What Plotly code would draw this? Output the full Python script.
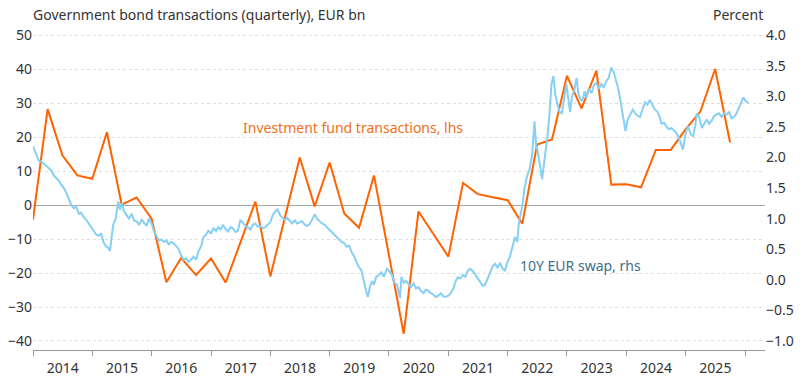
import plotly.graph_objects as go

# Quarterly investment fund transactions in government bonds (EUR bn, lhs)
fund_dates = [
    "2014-01-01", "2014-04-01", "2014-07-01", "2014-10-01",
    "2015-01-01", "2015-04-01", "2015-07-01", "2015-10-01",
    "2016-01-01", "2016-04-01", "2016-07-01", "2016-10-01",
    "2017-01-01", "2017-04-01", "2017-07-01", "2017-10-01",
    "2018-01-01", "2018-04-01", "2018-07-01", "2018-10-01",
    "2019-01-01", "2019-04-01", "2019-07-01", "2019-10-01",
    "2020-01-01", "2020-04-01", "2020-07-01", "2020-10-01",
    "2021-01-01", "2021-04-01", "2021-07-01", "2021-10-01",
    "2022-01-01", "2022-04-01", "2022-07-01", "2022-10-01",
    "2023-01-01", "2023-04-01", "2023-07-01", "2023-10-01",
    "2024-01-01", "2024-04-01", "2024-07-01", "2024-10-01",
    "2025-01-01", "2025-04-01", "2025-07-01", "2025-10-01",
]
fund_values = [
    -4.3, 28.2, 14.6, 8.7,
    7.7, 21.4, 0.1, 2.2,
    -4.0, -22.7, -15.6, -20.6,
    -15.7, -22.8, -11.0, 1.0,
    -21.0, -3.5, 14.0, -0.4,
    12.5, -2.5, -6.7, 8.7,
    -14.6, -37.9, -1.9, -8.5,
    -15.2, 6.5, 3.2, 2.3,
    1.4, -5.5, 17.8, 19.3,
    38.0, 28.4, 39.5, 6.0,
    6.1, 5.2, 16.2, 16.2,
    22.3, 27.5, 40.0, 18.4,
]

# 10Y EUR swap rate (percent, rhs)
swap_dates = [
    "2014-01-01", "2014-01-20", "2014-02-05", "2014-02-20", "2014-03-08", "2014-03-25",
    "2014-04-10", "2014-04-25", "2014-05-10", "2014-05-25", "2014-06-10", "2014-06-25",
    "2014-07-10", "2014-07-25", "2014-08-10", "2014-08-25", "2014-09-10", "2014-09-25",
    "2014-10-10", "2014-10-25", "2014-11-10", "2014-11-25", "2014-12-10", "2014-12-25",
    "2015-01-10", "2015-01-25", "2015-02-10", "2015-02-25", "2015-03-10", "2015-03-25",
    "2015-04-10", "2015-04-20", "2015-05-01", "2015-05-10", "2015-05-25", "2015-06-10",
    "2015-06-20", "2015-07-01", "2015-07-15", "2015-08-01", "2015-08-15", "2015-09-01",
    "2015-09-15", "2015-10-01", "2015-10-15", "2015-11-01", "2015-11-15", "2015-12-01",
    "2015-12-15",
    "2016-01-01", "2016-01-15", "2016-02-01", "2016-02-15", "2016-03-01", "2016-03-15",
    "2016-04-01", "2016-04-15", "2016-05-01", "2016-05-15", "2016-06-01", "2016-06-15",
    "2016-07-01", "2016-07-15", "2016-08-01", "2016-08-15", "2016-09-01", "2016-09-15",
    "2016-10-01", "2016-10-15", "2016-11-01", "2016-11-15", "2016-12-01", "2016-12-15",
    "2017-01-01", "2017-01-15", "2017-02-01", "2017-02-15", "2017-03-01", "2017-03-15",
    "2017-04-01", "2017-04-15", "2017-05-01", "2017-05-15", "2017-06-01", "2017-06-15",
    "2017-07-01", "2017-07-15", "2017-08-01", "2017-08-15", "2017-09-01", "2017-09-15",
    "2017-10-01", "2017-10-15", "2017-11-01", "2017-11-15", "2017-12-01", "2017-12-15",
    "2018-01-01", "2018-01-15", "2018-02-01", "2018-02-15", "2018-03-01", "2018-03-15",
    "2018-04-01", "2018-04-15", "2018-05-01", "2018-05-15", "2018-06-01", "2018-06-15",
    "2018-07-01", "2018-07-15", "2018-08-01", "2018-08-15", "2018-09-01", "2018-09-15",
    "2018-10-01", "2018-10-15", "2018-11-01", "2018-11-15", "2018-12-01", "2018-12-15",
    "2019-01-01", "2019-01-15", "2019-02-01", "2019-02-15", "2019-03-01", "2019-03-15",
    "2019-04-01", "2019-04-15", "2019-05-01", "2019-05-15", "2019-06-01", "2019-06-15",
    "2019-07-01", "2019-07-15", "2019-08-01", "2019-08-15", "2019-08-25", "2019-09-05",
    "2019-09-20", "2019-10-01", "2019-10-15", "2019-11-01", "2019-11-15", "2019-12-01",
    "2019-12-20",
    "2020-01-05", "2020-01-20", "2020-02-01", "2020-02-20", "2020-03-09", "2020-03-18",
    "2020-04-01", "2020-04-15", "2020-05-01", "2020-05-15", "2020-06-01", "2020-06-15",
    "2020-07-01", "2020-07-15", "2020-08-01", "2020-08-15", "2020-09-01", "2020-09-15",
    "2020-10-01", "2020-10-15", "2020-11-01", "2020-11-15", "2020-12-01", "2020-12-15",
    "2021-01-01", "2021-01-15", "2021-02-01", "2021-02-15", "2021-03-01", "2021-03-15",
    "2021-04-01", "2021-04-15", "2021-05-01", "2021-05-15", "2021-06-01", "2021-06-15",
    "2021-07-01", "2021-07-15", "2021-08-01", "2021-08-15", "2021-09-01", "2021-09-15",
    "2021-10-01", "2021-10-15", "2021-11-01", "2021-11-15", "2021-12-01", "2021-12-15",
    "2022-01-01", "2022-01-15", "2022-02-01", "2022-02-15", "2022-03-01", "2022-03-10",
    "2022-03-20", "2022-04-01", "2022-04-15", "2022-05-01", "2022-05-15", "2022-06-01",
    "2022-06-15", "2022-06-25", "2022-07-05", "2022-07-20", "2022-08-01", "2022-08-15",
    "2022-09-01", "2022-09-15", "2022-09-28", "2022-10-10", "2022-10-20", "2022-11-01",
    "2022-11-15", "2022-12-01", "2022-12-15", "2022-12-28",
    "2023-01-10", "2023-01-20", "2023-02-01", "2023-02-15", "2023-03-01", "2023-03-12",
    "2023-03-25", "2023-04-05", "2023-04-20", "2023-05-01", "2023-05-15", "2023-06-01",
    "2023-06-15", "2023-07-01", "2023-07-15", "2023-08-01", "2023-08-15", "2023-09-01",
    "2023-09-15", "2023-10-01", "2023-10-15", "2023-11-01", "2023-11-15", "2023-12-01",
    "2023-12-15", "2023-12-27",
    "2024-01-10", "2024-01-25", "2024-02-10", "2024-02-25", "2024-03-10", "2024-03-25",
    "2024-04-10", "2024-04-25", "2024-05-10", "2024-05-25", "2024-06-10", "2024-06-25",
    "2024-07-10", "2024-07-25", "2024-08-05", "2024-08-20", "2024-09-05", "2024-09-20",
    "2024-10-05", "2024-10-20", "2024-11-05", "2024-11-20", "2024-12-05", "2024-12-15",
    "2025-01-01", "2025-01-15", "2025-02-01", "2025-02-15", "2025-03-01", "2025-03-10",
    "2025-03-25", "2025-04-10", "2025-04-25", "2025-05-10", "2025-05-25", "2025-06-10",
    "2025-06-25", "2025-07-10", "2025-07-25", "2025-08-10", "2025-08-25", "2025-09-10",
    "2025-09-25", "2025-10-10", "2025-10-25", "2025-11-10", "2025-11-25", "2025-12-10",
    "2025-12-22", "2026-01-05", "2026-01-22",
]
swap_values = [
    2.18, 2.05, 1.95, 1.93, 1.90, 1.86,
    1.82, 1.78, 1.70, 1.66, 1.62, 1.55,
    1.50, 1.42, 1.30, 1.22, 1.17, 1.19,
    1.08, 1.10, 1.02, 0.98, 0.92, 0.86,
    0.80, 0.74, 0.72, 0.76, 0.62, 0.55,
    0.52, 0.47, 0.72, 0.90, 1.00, 1.28,
    1.15, 1.25, 1.12, 1.06, 1.00, 1.08,
    0.97, 0.95, 0.90, 0.98, 0.94, 0.88,
    1.00,
    0.92, 0.80, 0.72, 0.64, 0.66, 0.62,
    0.64, 0.58, 0.62, 0.60, 0.55, 0.50,
    0.40, 0.33, 0.35, 0.29, 0.33, 0.38,
    0.33, 0.46, 0.55, 0.70, 0.74, 0.80,
    0.76, 0.84, 0.80, 0.86, 0.82, 0.90,
    0.83, 0.79, 0.86, 0.84, 0.78, 0.80,
    0.98, 0.94, 0.88, 0.86, 0.82, 0.90,
    0.92, 0.87, 0.88, 0.84, 0.86, 0.90,
    0.94, 1.05, 1.12, 1.15, 1.06, 1.02,
    0.98, 1.01, 0.96, 0.92, 0.97, 0.92,
    0.94, 0.96, 0.90, 0.88, 0.91, 0.98,
    1.07, 1.00, 0.96, 0.92, 0.90, 0.86,
    0.82, 0.78, 0.74, 0.70, 0.66, 0.62,
    0.60, 0.54, 0.56, 0.46, 0.38, 0.30,
    0.20, 0.16, -0.05, -0.20, -0.28, -0.12,
    -0.02, -0.08, 0.05, 0.08, 0.12, 0.05,
    0.18,
    0.14, 0.08, -0.04, -0.08, -0.30, 0.05,
    -0.05, -0.02, -0.08, -0.12, -0.06, -0.14,
    -0.12, -0.18, -0.22, -0.16, -0.18, -0.22,
    -0.24, -0.28, -0.26, -0.22, -0.27, -0.28,
    -0.26, -0.22, -0.14, -0.02, 0.04, 0.02,
    0.08, 0.05, 0.15, 0.18, 0.14, 0.08,
    0.02, -0.05, -0.10, -0.08, 0.04, 0.12,
    0.22, 0.26, 0.20, 0.28, 0.18, 0.15,
    0.30, 0.38, 0.55, 0.70, 0.62, 0.90,
    1.05, 1.20, 1.50, 1.70, 1.80, 2.05,
    2.59, 2.20, 2.10, 1.85, 1.64, 1.95,
    2.30, 2.70, 3.20, 3.33, 3.05, 2.90,
    2.75, 2.72, 3.00, 3.20,
    2.95, 2.74, 3.00, 3.10, 3.30, 3.05,
    2.95, 2.92, 3.08, 2.98, 3.12, 3.05,
    3.18, 3.22, 3.12, 3.20, 3.14, 3.25,
    3.30, 3.47, 3.40, 3.25, 3.10, 2.85,
    2.65, 2.43,
    2.62, 2.70, 2.78, 2.72, 2.68, 2.66,
    2.80, 2.90, 2.86, 2.94, 2.86, 2.78,
    2.75, 2.66, 2.55, 2.57, 2.50, 2.46,
    2.48, 2.44, 2.40, 2.32, 2.18, 2.13,
    2.40, 2.51, 2.38, 2.34, 2.52, 2.72,
    2.66, 2.48, 2.55, 2.62, 2.55, 2.60,
    2.68, 2.70, 2.72, 2.66, 2.72, 2.70,
    2.74, 2.64, 2.66, 2.72, 2.82, 2.92,
    2.98, 2.92, 2.89,
]

left_ticks = [50, 40, 30, 20, 10, 0, -10, -20, -30, -40]
right_ticks = [4.0, 3.5, 3.0, 2.5, 2.0, 1.5, 1.0, 0.5, 0.0, -0.5, -1.0]

ORANGE = "#FF6200"
BLUE = "#86cff5"
TEXT = "#333333"
FONT = "Noto Sans"
FS = 14

fig = go.Figure()
fig.add_trace(go.Scatter(x=swap_dates, y=swap_values, mode="lines", yaxis="y2",
                         line=dict(color=BLUE, width=2), showlegend=False))
fig.add_trace(go.Scatter(x=fund_dates, y=fund_values, mode="lines", yaxis="y",
                         line=dict(color=ORANGE, width=2), showlegend=False))

L_MIN, L_MAX = -42.65, 50.6
R_MIN = -1 + (L_MIN + 40) / 18
R_MAX = -1 + (L_MAX + 40) / 18

fig.update_layout(
    template="none",
    width=800, height=384,
    margin=dict(l=33, r=35, t=33, b=34, autoexpand=False),
    paper_bgcolor="white", plot_bgcolor="white",
    font=dict(family=FONT, size=FS, color=TEXT),
    xaxis=dict(
        type="date", range=["2014-01-01", "2026-05-04"], automargin=False,
        tick0="2014-01-01", dtick="M12", tickformat="%Y",
        ticklabelmode="period", ticks="outside", ticklen=5,
        tickcolor="#9a9a9a", showline=True, linecolor="#9a9a9a", linewidth=1,
        showgrid=False, zeroline=False, tickfont=dict(size=FS, color=TEXT),
    ),
    yaxis=dict(
        range=[L_MIN, L_MAX], tickvals=left_ticks, automargin=False,
        showgrid=True, gridcolor="#dedede", griddash="dot", gridwidth=1,
        zeroline=True, zerolinecolor="#a8a8a8", zerolinewidth=1,
        ticks="", showline=False, tickfont=dict(size=FS, color=TEXT),
    ),
    yaxis2=dict(
        range=[R_MIN, R_MAX], tickvals=right_ticks, tickformat=".1f", automargin=False,
        overlaying="y", side="right", showgrid=False, zeroline=False,
        ticks="", showline=False, tickfont=dict(size=FS, color=TEXT),
    ),
)

fig.add_annotation(text="Government bond transactions (quarterly), EUR bn",
                   xref="paper", yref="paper", x=0, y=1, xanchor="left", yanchor="bottom",
                   xshift=-2, yshift=7, showarrow=False, font=dict(size=FS, color=TEXT))
fig.add_annotation(text="Percent", xref="paper", yref="paper", x=1, y=1,
                   xanchor="right", yanchor="bottom", yshift=7, showarrow=False,
                   font=dict(size=FS, color=TEXT))
fig.add_annotation(text="Investment fund transactions, lhs", x="2017-07-05", y=22.9,
                   xref="x", yref="y", xanchor="left", yanchor="middle", showarrow=False,
                   font=dict(size=FS, color="#F07020"))
fig.add_annotation(text="10Y EUR swap, rhs", x="2022-03-07", y=-17.8,
                   xref="x", yref="y", xanchor="left", yanchor="middle", showarrow=False,
                   font=dict(size=FS, color="#3c6f8e"))

fig.write_html("out.html", config={"displayModeBar": False},
               post_script="document.body.style.margin='0';document.body.style.overflow='hidden';")
